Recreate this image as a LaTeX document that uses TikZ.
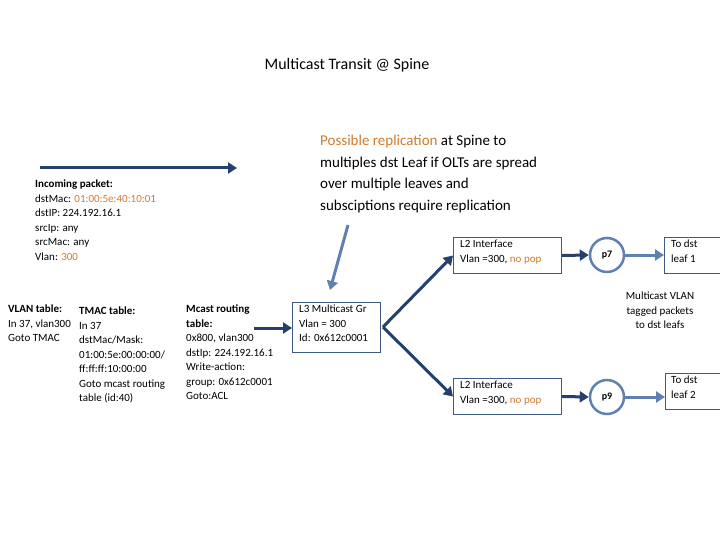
\documentclass[tikz,border=0pt]{standalone}
\usepackage{fontspec}
\setmainfont{Carlito}
\usetikzlibrary{arrows.meta}
\definecolor{dkb}{RGB}{38,64,110}
\definecolor{ltb}{RGB}{95,128,178}
\definecolor{bx}{RGB}{60,90,130}
\definecolor{org}{RGB}{208,122,46}
\tikzset{
 dk/.style={draw=dkb,line width=3pt,-{Triangle[length=9pt,width=11pt]}},
 lt/.style={draw=ltb,line width=3pt,-{Triangle[length=9pt,width=11pt]}},
 txt/.style={align=left,anchor=north west,inner sep=0pt,font=\fontsize{11}{14.5}\selectfont},
 box/.style={draw=bx,line width=1pt,align=left,anchor=north west,inner sep=5pt},
 prt/.style={circle,draw=ltb,line width=2.5pt,minimum size=34pt,inner sep=0pt,font=\fontsize{10}{12}\selectfont\bfseries}
}
\begin{document}
\begin{tikzpicture}[x=1pt,y=-1pt]
\useasboundingbox (0,0) rectangle (720,540);
\node[font=\fontsize{16}{18}\selectfont] (title) at (347,65) {Multicast Transit @ Spine};
\coordinate (a1) at (40,168); \coordinate (a2) at (237,168);
\draw[dk] (a1) -- (a2);
\node[txt] (inc) at (35,180) {\textbf{Incoming packet:}\\dstMac: \textcolor{org}{01:00:5e:40:10:01}\\dstIP: 224.192.16.1\\srcIp: any\\srcMac: any\\Vlan: \textcolor{org}{300}};
\node[txt,font=\fontsize{15}{21.5}\selectfont] (poss) at (320,135) {\textcolor{org}{Possible replication} at Spine to\\multiples dst Leaf if OLTs are spread\\over multiple leaves and\\subsciptions require replication};
\node[txt] (vlan) at (8,305) {\textbf{VLAN table:}\\In 37, vlan300\\Goto TMAC};
\node[txt] (tmac) at (79,307) {\textbf{TMAC table:}\\In 37\\dstMac/Mask:\\01:00:5e:00:00:00/\\ff:ff:ff:10:00:00\\Goto mcast routing\\table (id:40)};
\node[txt] (mc) at (186,305) {\textbf{Mcast routing}\\\textbf{table:}\\0x800, vlan300\\dstIp: 224.192.16.1\\Write-action:\\group: 0x612c0001\\Goto:ACL};
\node[box,minimum width=88pt,minimum height=50pt,inner sep=0pt] (l3) at (292,302) {};
\node[txt] (l3t) at (299,305) {L3 Multicast Gr\\Vlan = 300\\Id: 0x612c0001};
\coordinate (m1) at (254,328);
\draw[dk] (m1) -- (l3.west|-m1);
\coordinate (q1) at (348,225); \coordinate (q2) at (330,290);
\draw[lt] (q1) -- (q2);
\node[box,minimum width=108pt,minimum height=36pt,inner sep=0pt] (l2a) at (453,237) {};
\node[txt] (l2at) at (460,240) {L2 Interface\\Vlan =300, \textcolor{org}{no pop}};
\node[box,minimum width=108pt,minimum height=36pt,inner sep=0pt] (l2b) at (453,378) {};
\node[txt] (l2bt) at (460,381) {L2 Interface\\Vlan =300, \textcolor{org}{no pop}};
\coordinate (sp) at (383,327);
\draw[dk] (sp) -- (l2a.west);
\draw[dk] (sp) -- (l2b.west);
\node[prt] (p7) at (607,255) {p7};
\node[prt] (p9) at (607,397) {p9};
\draw[dk] (l2a.east) -- (p7.west);
\draw[dk] (l2b.east) -- (p9.west);
\node[box,minimum width=60pt,minimum height=36pt,inner sep=0pt] (d1) at (664,237) {};
\node[box,minimum width=58pt,minimum height=36pt,inner sep=0pt] (d2) at (665,373) {};
\node[txt] (d1t) at (671,240) {To dst\\leaf 1};
\node[txt] (d2t) at (671,376) {To dst\\leaf 2};
\draw[lt] (p7.east) -- (d1.west|-p7);
\draw[lt] (p9.east) -- (d2.west|-p9);
\node[txt,align=center,anchor=north] (mv) at (660,292) {Multicast VLAN\\tagged packets\\to dst leafs};
\end{tikzpicture}
\end{document}
